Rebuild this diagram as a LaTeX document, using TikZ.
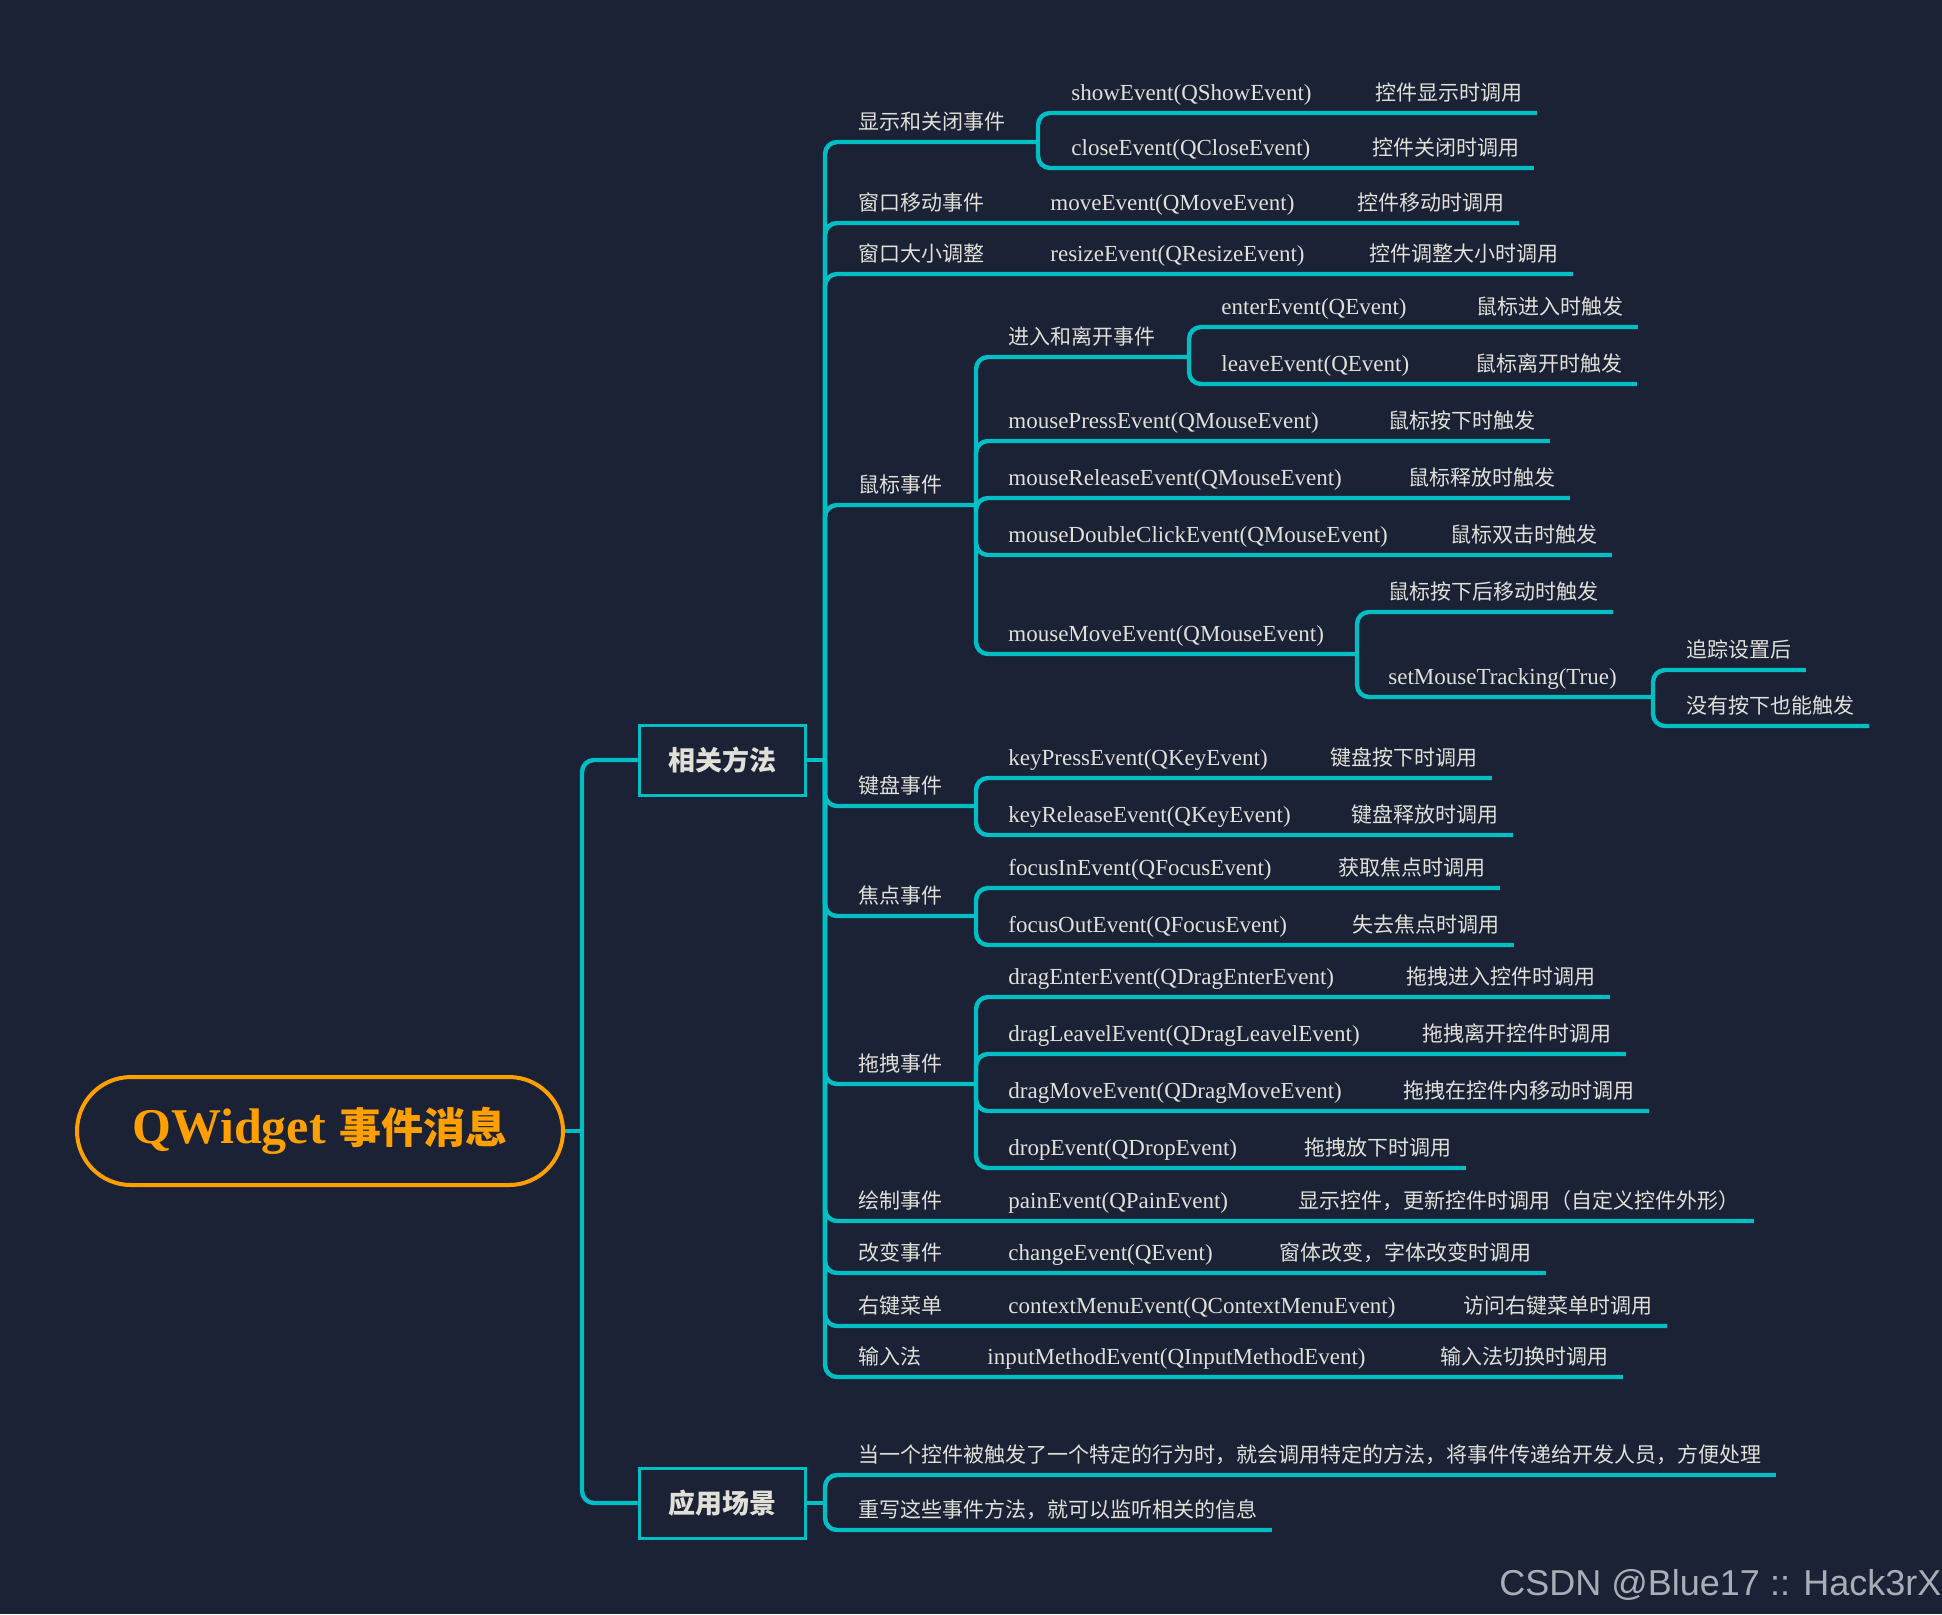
\documentclass[tikz,border=0pt]{standalone}
\usepackage{fontspec}
\setmainfont{Liberation Serif}
\newfontfamily\cjk{Noto Sans CJK SC}
\newfontfamily\marca{Liberation Sans}
\usetikzlibrary{calc}
\definecolor{QFondo}{HTML}{1B2236}
\definecolor{QTeal}{HTML}{00BFC4}
\definecolor{QNaranja}{HTML}{FFA000}
\definecolor{QTexto}{HTML}{E0DFD8}
\definecolor{QMarca}{HTML}{A9ADB5}

\begin{document}
\begin{tikzpicture}[
      x=0.5pt, y=-0.5pt,
      linea/.style={draw=QTeal, line width=2.2pt, rounded corners=6pt},
      raiz/.style={rectangle, rounded corners=27pt, draw=QNaranja, line width=2pt,
        minimum width=243pt, minimum height=54pt, text=QNaranja, inner sep=0pt},
      caja/.style={rectangle, draw=QTeal, line width=1.5pt, fill=QFondo,
        minimum width=83pt, minimum height=35pt, text=QTexto,
        font=\cjk\bfseries\fontsize{13.5pt}{16pt}\selectfont},
      rama/.style={anchor=base west, inner sep=0pt, text=QTexto,
        font=\cjk\fontsize{10.5pt}{12pt}\selectfont},
      metodo/.style={anchor=base west, inner sep=0pt, text=QTexto,
        font=\fontsize{11.5pt}{13pt}\selectfont},
    ]

    \fill[QFondo] (0,0) rectangle (1942,1614);
    \useasboundingbox (0,0) rectangle (1942,1614);

    % raiz y temas principales
    \node[raiz] (raiz)    at (320,1131) {{\bfseries\fontsize{25pt}{28pt}\selectfont QWidget}\hspace{7pt}{\cjk\bfseries\fontsize{21pt}{26pt}\selectfont 事件消息}};
    \node[caja] (metodos) at (722,760)  {相关方法};
    \node[caja] (escenas) at (722,1503) {应用场景};
    \coordinate (j0) at (582,1131);
    \coordinate (j1) at (825,760);
    \coordinate (j2) at (825,1503);

    % 相关方法
    \node[rama]   (show)     at (858,129)  {显示和关闭事件};
    \coordinate   (j11)      at (1038,142);
    \node[metodo] (showm)    at (1071,100) {showEvent(QShowEvent)};
    \node[rama]   (showd)    at (1375,100) {控件显示时调用};
    \node[metodo] (closem)   at (1071,155) {closeEvent(QCloseEvent)};
    \node[rama]   (closed)   at (1372,155) {控件关闭时调用};

    \node[rama]   (move)     at (858,210)  {窗口移动事件};
    \node[metodo] (movem)    at (1050,210) {moveEvent(QMoveEvent)};
    \node[rama]   (moved)    at (1357,210) {控件移动时调用};
    \node[rama]   (resize)   at (858,261)  {窗口大小调整};
    \node[metodo] (resizem)  at (1050,261) {resizeEvent(QResizeEvent)};
    \node[rama]   (resized)  at (1369,261) {控件调整大小时调用};

    \node[rama]   (mouse)    at (858,492)  {鼠标事件};
    \coordinate   (j14)      at (976,505);
    \node[rama]   (enter)    at (1008,344) {进入和离开事件};
    \coordinate   (j141)     at (1189,357);
    \node[metodo] (enterm)   at (1221,314) {enterEvent(QEvent)};
    \node[rama]   (enterd)   at (1476,314) {鼠标进入时触发};
    \node[metodo] (leavem)   at (1221,371) {leaveEvent(QEvent)};
    \node[rama]   (leaved)   at (1475,371) {鼠标离开时触发};
    \node[metodo] (pressm)   at (1008,428) {mousePressEvent(QMouseEvent)};
    \node[rama]   (pressd)   at (1388,428) {鼠标按下时触发};
    \node[metodo] (releasem) at (1008,485) {mouseReleaseEvent(QMouseEvent)};
    \node[rama]   (released) at (1408,485) {鼠标释放时触发};
    \node[metodo] (doublem)  at (1008,542) {mouseDoubleClickEvent(QMouseEvent)};
    \node[rama]   (doubled)  at (1450,542) {鼠标双击时触发};
    \node[metodo] (mmovem)   at (1008,641) {mouseMoveEvent(QMouseEvent)};
    \coordinate   (j146)     at (1357,654);
    \node[rama]   (mmoved)   at (1388,599) {鼠标按下后移动时触发};
    \node[metodo] (trackm)   at (1388,684) {setMouseTracking(True)};
    \coordinate   (j1462)    at (1653,697);
    \node[rama]   (tracka)   at (1686,657) {追踪设置后};
    \node[rama]   (trackb)   at (1686,713) {没有按下也能触发};

    \node[rama]   (key)      at (858,793)  {键盘事件};
    \coordinate   (j15)      at (976,806);
    \node[metodo] (keypm)    at (1008,765) {keyPressEvent(QKeyEvent)};
    \node[rama]   (keypd)    at (1330,765) {键盘按下时调用};
    \node[metodo] (keyrm)    at (1008,822) {keyReleaseEvent(QKeyEvent)};
    \node[rama]   (keyrd)    at (1351,822) {键盘释放时调用};

    \node[rama]   (focus)    at (858,903)  {焦点事件};
    \coordinate   (j16)      at (976,916);
    \node[metodo] (finm)     at (1008,875) {focusInEvent(QFocusEvent)};
    \node[rama]   (find)     at (1338,875) {获取焦点时调用};
    \node[metodo] (foutm)    at (1008,932) {focusOutEvent(QFocusEvent)};
    \node[rama]   (foutd)    at (1352,932) {失去焦点时调用};

    \node[rama]   (drag)     at (858,1071)  {拖拽事件};
    \coordinate   (j17)      at (976,1084);
    \node[metodo] (dentm)    at (1008,984)  {dragEnterEvent(QDragEnterEvent)};
    \node[rama]   (dentd)    at (1406,984)  {拖拽进入控件时调用};
    \node[metodo] (dleam)    at (1008,1041) {dragLeavelEvent(QDragLeavelEvent)};
    \node[rama]   (dlead)    at (1422,1041) {拖拽离开控件时调用};
    \node[metodo] (dmovm)    at (1008,1098) {dragMoveEvent(QDragMoveEvent)};
    \node[rama]   (dmovd)    at (1403,1098) {拖拽在控件内移动时调用};
    \node[metodo] (dropm)    at (1008,1155) {dropEvent(QDropEvent)};
    \node[rama]   (dropd)    at (1304,1155) {拖拽放下时调用};

    \node[rama]   (paint)    at (858,1208)  {绘制事件};
    \node[metodo] (paintm)   at (1008,1208) {painEvent(QPainEvent)};
    \node[rama]   (paintd)   at (1298,1208) {显示控件，更新控件时调用（自定义控件外形）};
    \node[rama]   (change)   at (858,1260)  {改变事件};
    \node[metodo] (changem)  at (1008,1260) {changeEvent(QEvent)};
    \node[rama]   (changed)  at (1279,1260) {窗体改变，字体改变时调用};
    \node[rama]   (menu)     at (858,1313)  {右键菜单};
    \node[metodo] (menum)    at (1008,1313) {contextMenuEvent(QContextMenuEvent)};
    \node[rama]   (menud)    at (1463,1313) {访问右键菜单时调用};
    \node[rama]   (input)    at (858,1364)  {输入法};
    \node[metodo] (inputm)   at (987,1364)  {inputMethodEvent(QInputMethodEvent)};
    \node[rama]   (inputd)   at (1440,1364) {输入法切换时调用};

    % 应用场景
    \node[rama]   (uso)      at (858,1462) {当一个控件被触发了一个特定的行为时，就会调用特定的方法，将事件传递给开发人员，方便处理};
    \node[rama]   (reuso)    at (858,1517) {重写这些事件方法，就可以监听相关的信息};

    \node[anchor=base west, inner sep=0pt, text=QMarca, font=\marca\fontsize{18pt}{20pt}\selectfont]
      (firma) at (1499,1595) {CSDN @Blue17 :: Hack3rX};

    % conectores
    \draw[linea] (raiz.east) -- (j0);
    \draw[linea] (j0) |- (metodos.west);
    \draw[linea] (j0) |- (escenas.west);
    \draw[linea] (metodos.east) -- (j1);
    \draw[linea] (escenas.east) -- (j2);

    \draw[linea] (j1)   |- (j11);
    \draw[linea] (j11)  |- ($(showd.base east)+(14,13)$);
    \draw[linea] (j11)  |- ($(closed.base east)+(14,13)$);
    \draw[linea] (j1)   |- ($(moved.base east)+(14,13)$);
    \draw[linea] (j1)   |- ($(resized.base east)+(14,13)$);
    \draw[linea] (j1)   |- (j14);
    \draw[linea] (j14)  |- (j141);
    \draw[linea] (j141) |- ($(enterd.base east)+(14,13)$);
    \draw[linea] (j141) |- ($(leaved.base east)+(14,13)$);
    \draw[linea] (j14)  |- ($(pressd.base east)+(14,13)$);
    \draw[linea] (j14)  |- ($(released.base east)+(14,13)$);
    \draw[linea] (j14)  |- ($(doubled.base east)+(14,13)$);
    \draw[linea] (j14)  |- (j146);
    \draw[linea] (j146) |- ($(mmoved.base east)+(14,13)$);
    \draw[linea] (j146) |- (j1462);
    \draw[linea] (j1462) |- ($(tracka.base east)+(14,13)$);
    \draw[linea] (j1462) |- ($(trackb.base east)+(14,13)$);
    \draw[linea] (j1)   |- (j15);
    \draw[linea] (j15)  |- ($(keypd.base east)+(14,13)$);
    \draw[linea] (j15)  |- ($(keyrd.base east)+(14,13)$);
    \draw[linea] (j1)   |- (j16);
    \draw[linea] (j16)  |- ($(find.base east)+(14,13)$);
    \draw[linea] (j16)  |- ($(foutd.base east)+(14,13)$);
    \draw[linea] (j1)   |- (j17);
    \draw[linea] (j17)  |- ($(dentd.base east)+(14,13)$);
    \draw[linea] (j17)  |- ($(dlead.base east)+(14,13)$);
    \draw[linea] (j17)  |- ($(dmovd.base east)+(14,13)$);
    \draw[linea] (j17)  |- ($(dropd.base east)+(14,13)$);
    \draw[linea] (j1)   |- ($(paintd.base east)+(14,13)$);
    \draw[linea] (j1)   |- ($(changed.base east)+(14,13)$);
    \draw[linea] (j1)   |- ($(menud.base east)+(14,13)$);
    \draw[linea] (j1)   |- ($(inputd.base east)+(14,13)$);

    \draw[linea] (j2) |- ($(uso.base east)+(14,13)$);
    \draw[linea] (j2) |- ($(reuso.base east)+(14,13)$);

  \end{tikzpicture}
\end{document}
